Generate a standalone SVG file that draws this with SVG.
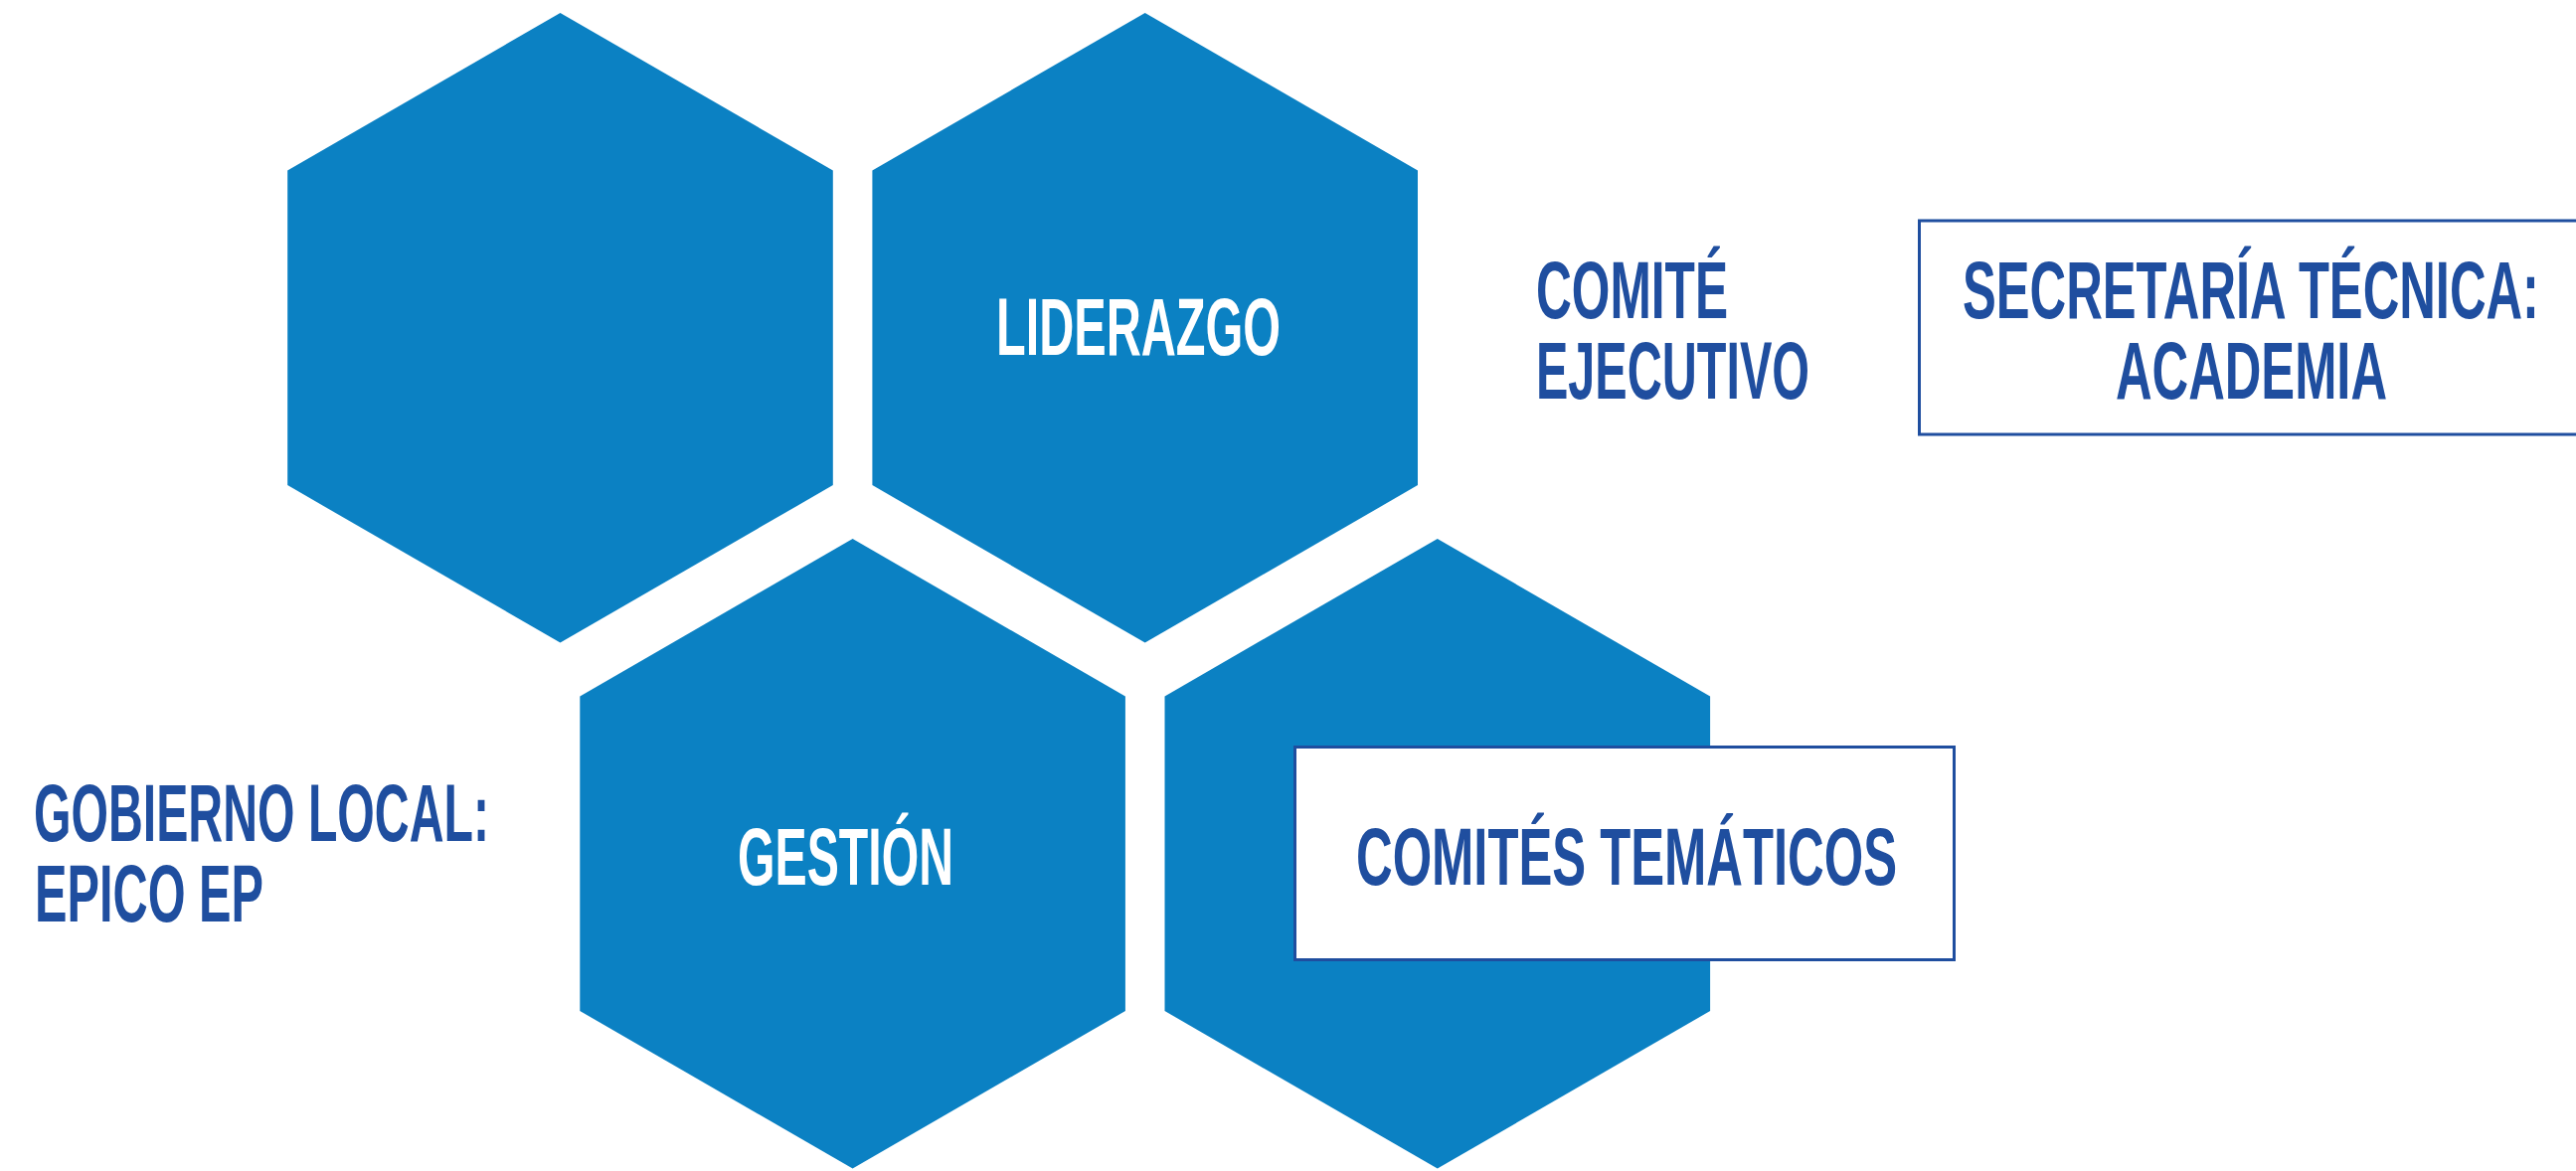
<svg xmlns="http://www.w3.org/2000/svg" width="2591" height="1178" viewBox="0 0 2591 1178">
  <style>
    .hex { fill: #0B81C3; }
    .box { fill: #FFFFFF; stroke: #1F4E9F; stroke-width: 3; }
    .lbl { font-family: "Liberation Sans", Arial, sans-serif; font-weight: bold; font-size: 82px; }
    .w { fill: #FFFFFF; }
    .b { fill: #1F4E9F; }
  </style>
  <rect x="0" y="0" width="2591" height="1178" fill="#FFFFFF"/>
  <g id="connectors"/>
  <g id="hex-top-left">
    <polygon class="hex" points="563.5,13 837.8,171.4 837.8,488.1 563.5,646.5 289.2,488.1 289.2,171.4"/>
  </g>
  <g id="hex-liderazgo">
    <polygon class="hex" points="1151.7,13 1426,171.4 1426,488.1 1151.7,646.5 877.4,488.1 877.4,171.4"/>
    <text class="lbl w" x="1002" y="357" textLength="286" lengthAdjust="spacingAndGlyphs">LIDERAZGO</text>
  </g>
  <g id="hex-gestion">
    <polygon class="hex" points="857.6,542 1131.9,700.4 1131.9,1017.1 857.6,1175.5 583.3,1017.1 583.3,700.4"/>
    <text class="lbl w" x="742" y="890" textLength="217" lengthAdjust="spacingAndGlyphs">GESTIÓN</text>
  </g>
  <g id="hex-bottom-right">
    <polygon class="hex" points="1445.8,542 1720.1,700.4 1720.1,1017.1 1445.8,1175.5 1171.5,1017.1 1171.5,700.4"/>
  </g>
  <g id="comites-tematicos">
    <rect class="box" x="1302.5" y="751.5" width="663" height="214"/>
    <text class="lbl b" x="1364" y="890" textLength="544" lengthAdjust="spacingAndGlyphs">COMITÉS TEMÁTICOS</text>
  </g>
  <g id="comite-ejecutivo">
    <text class="lbl b" x="1545" y="320" textLength="193" lengthAdjust="spacingAndGlyphs">COMITÉ</text>
    <text class="lbl b" x="1545" y="401" textLength="275" lengthAdjust="spacingAndGlyphs">EJECUTIVO</text>
  </g>
  <g id="secretaria-tecnica">
    <rect class="box" x="1930.5" y="222" width="700" height="215"/>
    <text class="lbl b" x="1974" y="320" textLength="580" lengthAdjust="spacingAndGlyphs">SECRETARÍA TÉCNICA:</text>
    <text class="lbl b" x="2128" y="401" textLength="273" lengthAdjust="spacingAndGlyphs">ACADEMIA</text>
  </g>
  <g id="gobierno-local">
    <text class="lbl b" x="34" y="846" textLength="458" lengthAdjust="spacingAndGlyphs">GOBIERNO LOCAL:</text>
    <text class="lbl b" x="35" y="927" textLength="230" lengthAdjust="spacingAndGlyphs">EPICO EP</text>
  </g>
</svg>
